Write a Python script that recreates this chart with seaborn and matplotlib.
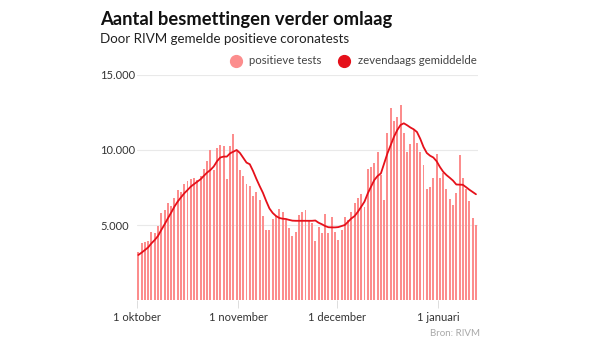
import matplotlib
matplotlib.use("Agg")
import matplotlib.pyplot as plt
from matplotlib.lines import Line2D
import numpy as np
import pandas as pd
import seaborn as sns

# Daily positive tests reported by RIVM, 1 Oct 2020 - 12 Jan 2021
tests_oct = [3200, 3780, 3890, 3950, 4510, 4440, 4950, 5780, 6000, 6440,
             6290, 6780, 7330, 7220, 7730, 7940, 8090, 8110, 8020, 8240,
             8710, 9240, 9980, 8670, 10150, 10310, 10290, 8050, 10250, 11070,
             9950]
tests_nov = [8667, 8267, 7733, 7600, 6950, 7222, 6640, 5630, 4667, 4640,
             5378, 5570, 6044, 5889, 5360, 4800, 4267, 4556, 5667, 5889,
             6000, 5333, 5111, 3956, 4889, 4444, 5733, 4444, 5556, 4556]
tests_dec = [4000, 4667, 5556, 5333, 5889, 6489, 6778, 7067, 6222, 8711,
             8844, 9156, 9889, 8333, 6667, 11156, 12778, 11956, 12222, 13000,
             11111, 9889, 10400, 11333, 10500, 9889, 9000, 7378, 7511, 8111,
             9750]
tests_jan = [8150, 8450, 7378, 6720, 6350, 7111, 9667, 8111, 7378, 6622,
             5444, 5000]

# Seven-day average
avg_oct = [3000, 3160, 3330, 3510, 3780, 4000, 4270, 4670, 5040, 5440,
           5820, 6220, 6560, 6840, 7110, 7330, 7560, 7730, 7890, 8050,
           8280, 8500, 8670, 8900, 9250, 9500, 9560, 9560, 9780, 9890,
           10000]
avg_nov = [9800, 9480, 9160, 9050, 8600, 8080, 7600, 7150, 6600, 6100,
           5800, 5600, 5470, 5420, 5400, 5340, 5290, 5280, 5280, 5280,
           5280, 5280, 5280, 5300, 5150, 5050, 4930, 4850, 4840, 4840]
avg_dec = [4860, 4930, 5000, 5220, 5440, 5600, 5890, 6220, 6560, 7110,
           7560, 8000, 8270, 8440, 9110, 9780, 10330, 10890, 11330, 11670,
           11780, 11650, 11500, 11380, 11200, 10750, 10200, 9800, 9620, 9500,
           9250]
avg_jan = [8870, 8550, 8330, 8150, 7960, 7700, 7690, 7680, 7520, 7350,
           7200, 7050]

month_starts = [0, 31, 61, 92]
month_labels = ["1 oktober", "1 november", "1 december", "1 januari"]
y_ticks = [5000, 10000, 15000]
y_labels = ["5.000", "10.000", "15.000"]

tests = tests_oct + tests_nov + tests_dec + tests_jan
average = avg_oct + avg_nov + avg_dec + avg_jan
df = pd.DataFrame({
    "day": np.arange(len(tests)) + 0.5,
    "tests": tests,
    "average": average,
})

BAR = "#fc8d8d"
LINE = "#e5101a"

sns.set_theme(style="white")
plt.rcParams["font.family"] = ["Lato", "DejaVu Sans"]

W, H = 600, 338
fig = plt.figure(figsize=(W / 100, H / 100), dpi=100)
x0, x1 = 136.7, 477.6
y_top, y_bot = 75, 300
ax = fig.add_axes([x0 / W, 1 - y_bot / H, (x1 - x0) / W, (y_bot - y_top) / H])

ax.set_axisbelow(True)
ax.grid(axis="y", color="#e9e9e9", linewidth=0.8)
sns.barplot(data=df, x="day", y="tests", native_scale=True, width=0.6,
            color=BAR, saturation=1, linewidth=0, ax=ax, zorder=2)
sns.lineplot(data=df, x="day", y="average", color=LINE, linewidth=1.3,
             ax=ax, zorder=3)

ax.set_xlim(0, len(tests))
ax.set_ylim(0, 15000)
ax.set_xlabel("")
ax.set_ylabel("")
for s in ax.spines.values():
    s.set_visible(False)

ax.set_xticks(month_starts)
ax.set_xticklabels(month_labels, fontsize=8, color="#333333")
ax.tick_params(axis="x", length=6, width=0.7, color="#dddddd", pad=2.5,
               bottom=True)
ax.set_yticks(y_ticks)
ax.set_yticklabels(y_labels, fontsize=8, color="#333333", ha="left")
ax.tick_params(axis="y", length=0, pad=(x0 - 100) * 72 / 100)

fig.text(100 / W, 1 - 20 / H, "Aantal besmettingen verder omlaag",
         fontsize=13.2, fontweight="bold", color="#111111", va="center")
fig.text(100 / W, 1 - 39 / H, "Door RIVM gemelde positieve coronatests",
         fontsize=9.6, color="#222222", va="center")

handles = [
    Line2D([], [], marker="o", linestyle="none", markersize=8.5,
           markerfacecolor=BAR, markeredgecolor=BAR),
    Line2D([], [], marker="o", linestyle="none", markersize=8.5,
           markerfacecolor=LINE, markeredgecolor=LINE),
]
fig.legend(handles, ["positieve tests", "zevendaags gemiddelde"],
           loc="center right", bbox_to_anchor=(481 / W, 1 - 61 / H),
           ncol=2, frameon=False, fontsize=8.2, handletextpad=0.15,
           columnspacing=1.0, labelcolor="#444444", borderaxespad=0)

fig.text(480 / W, 1 - 333 / H, "Bron: RIVM", fontsize=7, color="#a8a8a8",
         ha="right", va="center")

fig.savefig("out.png", dpi=100)
